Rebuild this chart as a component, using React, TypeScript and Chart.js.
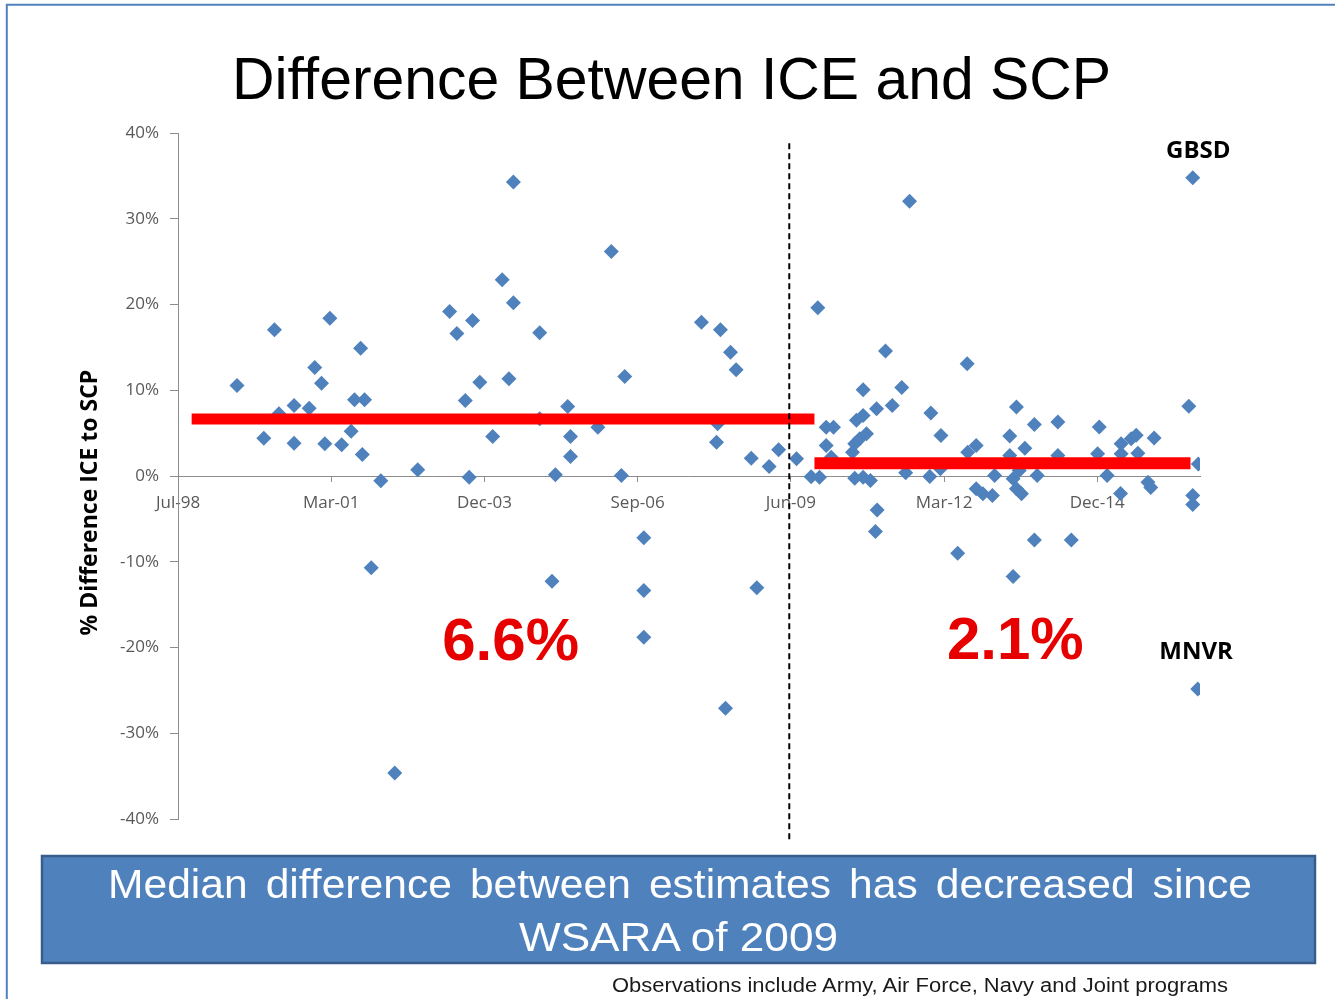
import React, { useEffect, useRef } from "react";
import { Chart, registerables } from "chart.js";

Chart.register(...registerables);

// ---- axis ticks ----
const xTickValues = [1998.496, 2001.234, 2003.972, 2006.71, 2009.448, 2012.186, 2014.923];
const xTickLabels = ["Jul-98", "Mar-01", "Dec-03", "Sep-06", "Jun-09", "Mar-12", "Dec-14"];
const yTickValues = [-40, -30, -20, -10, 0, 10, 20, 30, 40];
const xMin = 1998.496;
const xMax = 2016.76;

// ---- observations: date (decimal year) and % difference ICE to SCP ----
const programDates = [
  1999.55, 2000.03, 2000.22, 2000.30, 2000.57, 2000.57, 2000.84, 2000.94, 2001.06, 2001.12,
  2001.21, 2001.42, 2001.59, 2001.65, 2001.76, 2001.83, 2001.79, 2001.95, 2002.12, 2002.37,
  2002.78, 2003.35, 2003.48, 2003.63, 2003.70, 2003.76, 2003.89, 2004.12, 2004.29, 2004.41,
  2004.49, 2004.49, 2004.96, 2004.96, 2005.18, 2005.24, 2005.46, 2005.51, 2005.51, 2006.00,
  2006.24, 2006.42, 2006.48, 2006.82, 2006.82, 2006.82, 2007.85, 2008.12, 2008.14, 2008.19,
  2008.28, 2008.37, 2008.47, 2008.74, 2008.84, 2009.06, 2009.23, 2009.55,
  2009.81, 2009.93, 2009.96, 2010.08, 2010.21, 2010.08, 2010.17, 2010.55, 2010.59, 2010.59,
  2010.62, 2010.68, 2010.74, 2010.74, 2010.74, 2010.80, 2010.87, 2010.96, 2010.99, 2010.98,
  2011.14, 2011.26, 2011.43, 2011.50, 2011.57, 2011.93, 2011.95, 2012.13, 2012.12, 2012.43,
  2012.60, 2012.61, 2012.76, 2012.76, 2012.88, 2013.05, 2013.09, 2013.36, 2013.36, 2013.42,
  2013.42, 2013.48, 2013.48, 2013.53, 2013.57, 2013.63, 2013.80, 2013.80, 2013.85, 2014.22,
  2014.22, 2014.46, 2014.96, 2014.93, 2015.10, 2015.35, 2015.35, 2015.34, 2015.53, 2015.62,
  2015.65, 2015.83, 2015.88, 2015.94, 2016.56, 2016.63, 2016.63, 2016.63, 2016.73, 2016.72,
];
const pctDifference = [
  10.56, 4.41, 17.06, 7.26, 8.23, 3.83, 7.91, 12.66, 10.83, 3.76,
  18.41, 3.64, 5.23, 8.89, 14.91, 8.89, 2.51, -10.71, -0.56, -34.63,
  0.72, 19.19, 16.63, 8.81, -0.14, 18.14, 10.94, 4.61, 22.89, 11.34,
  34.28, 20.21, 16.71, 6.67, -12.27, 0.14, 8.11, 4.61, 2.28, 5.69,
  26.19, 0.06, 11.61, -7.21, -13.36, -18.81, 17.94, 3.94, 6.09, 17.06,
  -27.09, 14.44, 12.39, 2.08, -13.04, 1.11, 3.06, 2.01,
  -0.09, 19.62, -0.14, 5.69, 5.69, 3.56, 2.19, 2.78, 3.76, -0.26,
  6.51, 4.34, 7.06, 10.06, -0.14, 4.92, -0.53, -6.48, -3.97, 7.84,
  14.58, 8.23, 10.33, 0.37, 32.03, -0.06, 7.35, 4.73, 0.84, -9.01,
  13.09, 2.78, 3.56, -1.49, -2.08, -2.28, 0.06, 4.67, 2.39, -0.33,
  -11.73, 8.05, -1.49, 0.64, -2.08, 3.24, 6.01, -7.47, 0.06, 6.30,
  2.39, -7.47, 5.72, 2.59, 0.06, 3.76, 2.59, -2.04, 4.34, 4.76,
  2.66, -0.72, -1.34, 4.43, 8.13, 34.79, -2.28, -3.33, 1.39, -24.83,
];

// ---- median lines and WSARA marker ----
const preMedianX = [1998.74, 2009.87];
const preMedianY = [6.65, 6.65];
const postMedianX = [2009.87, 2016.59];
const postMedianY = [1.5, 1.5];
const wsaraX = [2009.42, 2009.42];
const wsaraY = [38.8, -42.6];

// ---- text annotations (x in years, y = baseline in %) ----
const labelTexts = ["6.6%", "2.1%", "GBSD", "MNVR"];
const labelX = [2004.44, 2013.46, 2016.73, 2016.69];
const labelY = [-21.47, -21.29, 37.1, -21.3];

const yAxisTitle = "% Difference ICE to SCP";

const toXY = (xs: number[], ys: number[]) => xs.map((x, i) => ({ x, y: ys[i] }));

const annotationPlugin = {
  id: "slideAnnotations",
  afterDraw(chart: any) {
    const { ctx, chartArea } = chart;
    const xs = chart.scales.x;
    const ys = chart.scales.y;
    ctx.save();
    // y axis title
    ctx.save();
    ctx.translate(chartArea.left - 88, ys.getPixelForValue(-3.1));
    ctx.rotate(-Math.PI / 2);
    ctx.font = 'bold 23px "Open Sans"';
    ctx.fillStyle = "#000000";
    ctx.textAlign = "center";
    ctx.textBaseline = "middle";
    ctx.fillText(yAxisTitle, 0, 0);
    ctx.restore();
    labelTexts.forEach((t, i) => {
      const big = t.indexOf("%") >= 0;
      ctx.font = big ? 'bold 60px "Liberation Sans"' : 'bold 24px "Open Sans"';
      ctx.fillStyle = big ? "#e60000" : "#000000";
      ctx.textAlign = "center";
      ctx.textBaseline = "alphabetic";
      ctx.fillText(t, xs.getPixelForValue(labelX[i]), ys.getPixelForValue(labelY[i]));
    });
    ctx.restore();
  },
};

export default function App() {
  const ref = useRef<HTMLCanvasElement>(null);

  useEffect(() => {
    if (!ref.current) return;
    const axisGray = "#8c8c8c";
    const chart = new Chart(ref.current, {
      type: "scatter",
      data: {
        datasets: [
          {
            type: "line",
            data: toXY(wsaraX, wsaraY),
            borderColor: "#000000",
            borderWidth: 2,
            borderDash: [6, 4],
            pointRadius: 0,
            clip: false,
            order: 0,
          } as any,
          {
            type: "line",
            data: toXY(preMedianX, preMedianY),
            borderColor: "#ff0000",
            borderWidth: 11,
            borderCapStyle: "butt",
            pointRadius: 0,
            order: 1,
          } as any,
          {
            type: "line",
            data: toXY(postMedianX, postMedianY),
            borderColor: "#ff0000",
            borderWidth: 12,
            borderCapStyle: "butt",
            pointRadius: 0,
            order: 1,
          } as any,
          {
            data: toXY(programDates, pctDifference),
            pointStyle: "rectRot",
            pointRadius: 7.5,
            backgroundColor: "#4f81bd",
            borderColor: "#4f81bd",
            borderWidth: 0,
            order: 2,
          } as any,
        ],
      },
      options: {
        responsive: false,
        animation: false,
        devicePixelRatio: 1,
        events: [],
        layout: { padding: { left: 78, top: 133, right: 135, bottom: 180 } },
        plugins: {
          legend: { display: false },
          tooltip: { enabled: false },
          title: { display: false },
        },
        scales: {
          x: {
            type: "linear",
            min: xMin,
            max: xMax,
            position: { y: 0 } as any,
            afterBuildTicks: (s: any) => {
              s.ticks = xTickValues.map((v) => ({ value: v }));
            },
            ticks: {
              autoSkip: false,
              maxRotation: 0,
              minRotation: 0,
              padding: 3,
              color: "#595959",
              font: { family: '"Open Sans"', size: 17, lineHeight: 2.2 },
              callback: (_v: any, i: number) => xTickLabels[i],
            },
            grid: { drawOnChartArea: false, drawTicks: true, tickLength: 5, color: axisGray },
            border: { display: true, color: axisGray, width: 1 },
          },
          y: {
            type: "linear",
            min: -40,
            max: 40,
            afterFit: (s: any) => {
              s.width = 100;
            },
            afterBuildTicks: (s: any) => {
              s.ticks = yTickValues.map((v) => ({ value: v }));
            },
            ticks: {
              padding: 11,
              color: "#595959",
              font: { family: '"Open Sans"', size: 17 },
              callback: (v: any) => `${v}%`,
            },
            grid: { drawOnChartArea: false, drawTicks: true, tickLength: 8, color: axisGray },
            border: { display: true, color: axisGray, width: 1 },
          },
        },
      },
      plugins: [annotationPlugin],
    } as any);
    return () => chart.destroy();
  }, []);

  return (
    <div
      style={{
        position: "absolute",
        left: 0,
        top: 0,
        width: 1335,
        height: 999,
        background: "#ffffff",
        overflow: "hidden",
      }}
    >
      <canvas ref={ref} width={1335} height={999} style={{ position: "absolute", left: 0, top: 0 }} />
      <svg
        width={1335}
        height={999}
        style={{ position: "absolute", left: 0, top: 0, pointerEvents: "none" }}
      >
        <path d="M6.8,999 L6.8,4.8 L1335,4.8" fill="none" stroke="#4f81bd" strokeWidth={2} />
        <text
          x={671.5}
          y={99}
          textAnchor="middle"
          fontFamily="Liberation Sans, Arial, sans-serif"
          fontSize={60}
          textLength={879}
          lengthAdjust="spacingAndGlyphs"
          fill="#000000"
        >
          Difference Between ICE and SCP
        </text>
        <rect x={42} y={856} width={1273} height={107} fill="#4f81bd" stroke="#385d8a" strokeWidth={2.5} />
        <text
          x={680}
          y={898}
          textAnchor="middle"
          fontFamily="Liberation Sans, Arial, sans-serif"
          fontSize={41}
          wordSpacing={6}
          textLength={1144}
          lengthAdjust="spacingAndGlyphs"
          fill="#ffffff"
        >
          Median difference between estimates has decreased since
        </text>
        <text
          x={678.5}
          y={951}
          textAnchor="middle"
          fontFamily="Liberation Sans, Arial, sans-serif"
          fontSize={41}
          textLength={319}
          lengthAdjust="spacingAndGlyphs"
          fill="#ffffff"
        >
          WSARA of 2009
        </text>
        <text
          x={920}
          y={992}
          textAnchor="middle"
          fontFamily="Liberation Sans, Arial, sans-serif"
          fontSize={20}
          textLength={616}
          lengthAdjust="spacingAndGlyphs"
          fill="#1a1a1a"
        >
          Observations include Army, Air Force, Navy and Joint programs
        </text>
      </svg>
    </div>
  );
}
